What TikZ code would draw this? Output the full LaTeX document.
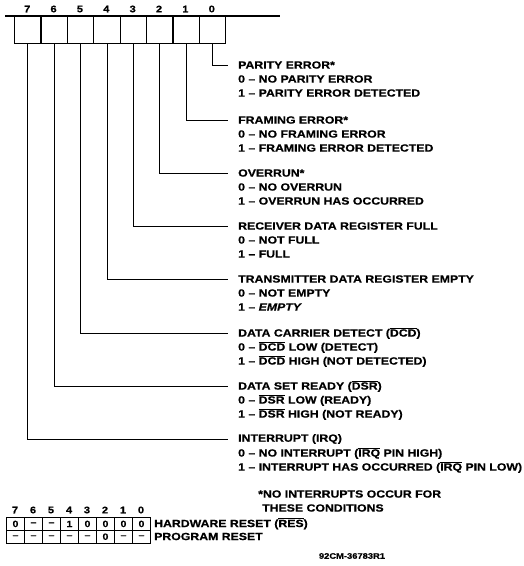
\documentclass[tikz,border=0pt]{standalone}
\usepackage{fontspec}
\setmainfont[FakeStretch=1.17, BoldFeatures={FakeBold=0.6}, BoldItalicFeatures={FakeBold=0.6}]{Liberation Sans}
\newcommand{\ovl}[1]{$\overline{\mbox{#1}}$}
\begin{document}
\begin{tikzpicture}[x=1pt,y=-1pt,
  font=\fontsize{10.5}{12}\selectfont\bfseries,
  bitbox/.style={draw, line width=1.3pt, minimum width=26.4pt, minimum height=27pt, inner sep=0pt, anchor=north west},
  digit/.style={font=\fontsize{9.5}{11}\selectfont\bfseries, inner sep=0pt},
  title/.style={anchor=west, inner xsep=10pt, inner ysep=0pt},
  desc/.style={anchor=west, inner sep=0pt},
  conn/.style={line width=0.9pt},
  cell/.style={draw, line width=1pt, minimum width=18pt, minimum height=12.8pt, inner sep=0pt, anchor=north west, font=\fontsize{9}{10}\selectfont\bfseries}]
\useasboundingbox (0,0) rectangle (524,566);
% register
\coordinate (topL) at (5,16);
\coordinate (topR) at (280,16);
\draw[line width=1.3pt] (topL) -- (topR);
\foreach \i in {0,...,7}{
  \node[bitbox] (b\i) at ({14+(7-\i)*26.375},16) {};
  \node[digit] (d\i) at ({27.19+(7-\i)*26.375},9) {\i};
}
% labels
\node[title] (t0) at (228,65) {PARITY ERROR*};
\node[desc] (t0a) at (238,79) {0 -- NO PARITY ERROR};
\node[desc] (t0b) at (238,93) {1 -- PARITY ERROR DETECTED};
\node[title] (t1) at (228,120) {FRAMING ERROR*};
\node[desc] (t1a) at (238,134) {0 -- NO FRAMING ERROR};
\node[desc] (t1b) at (238,148) {1 -- FRAMING ERROR DETECTED};
\node[title] (t2) at (228,173) {OVERRUN*};
\node[desc] (t2a) at (238,187) {0 -- NO OVERRUN};
\node[desc] (t2b) at (238,201) {1 -- OVERRUN HAS OCCURRED};
\node[title] (t3) at (228,226) {RECEIVER DATA REGISTER FULL};
\node[desc] (t3a) at (238,240) {0 -- NOT FULL};
\node[desc] (t3b) at (238,254) {1 -- FULL};
\node[title] (t4) at (228,279) {TRANSMITTER DATA REGISTER EMPTY};
\node[desc] (t4a) at (238,293) {0 -- NOT EMPTY};
\node[desc] (t4b) at (238,307) {1 -- \textit{EMPTY}};
\node[title] (t5) at (228,333) {DATA CARRIER DETECT (\ovl{DCD})};
\node[desc] (t5a) at (238,347) {0 -- \ovl{DCD} LOW (DETECT)};
\node[desc] (t5b) at (238,361) {1 -- \ovl{DCD} HIGH (NOT DETECTED)};
\node[title] (t6) at (228,386) {DATA SET READY (\ovl{DSR})};
\node[desc] (t6a) at (238,400) {0 -- \ovl{DSR} LOW (READY)};
\node[desc] (t6b) at (238,414) {1 -- \ovl{DSR} HIGH (NOT READY)};
\node[title] (t7) at (228,439) {INTERRUPT (IRQ)};
\node[desc] (t7a) at (238,453) {0 -- NO INTERRUPT (\ovl{IRQ} PIN HIGH)};
\node[desc] (t7b) at (238,467) {1 -- INTERRUPT HAS OCCURRED (\ovl{IRQ} PIN LOW)};
\foreach \i in {0,...,7}{
  \draw[conn] (b\i.south) |- (t\i.west);
}
% footnote
\node[desc] (fn1) at (258,494) {*NO INTERRUPTS OCCUR FOR};
\node[desc] (fn2) at (262,508) {THESE CONDITIONS};
% reset table
\foreach \i in {0,...,7}{
  \node[digit] (r\i) at ({15+(7-\i)*18},510) {\i};
}
\foreach \v [count=\k from 0] in {0,--,--,1,0,0,0,0}{
  \node[cell] (ca\k) at ({6+\k*18},517) {\v};
}
\foreach \v [count=\k from 0] in {--,--,--,--,--,0,--,--}{
  \node[cell] (cb\k) at ({6+\k*18},529.8) {\v};
}
\node[desc] (hw) at (154,523.5) {HARDWARE RESET (\ovl{RES})};
\node[desc] (pr) at (154,536.5) {PROGRAM RESET};
\node[font=\fontsize{8}{10}\selectfont\bfseries, inner sep=0pt] (ref) at (352,556) {92CM-36783R1};
\end{tikzpicture}
\end{document}
